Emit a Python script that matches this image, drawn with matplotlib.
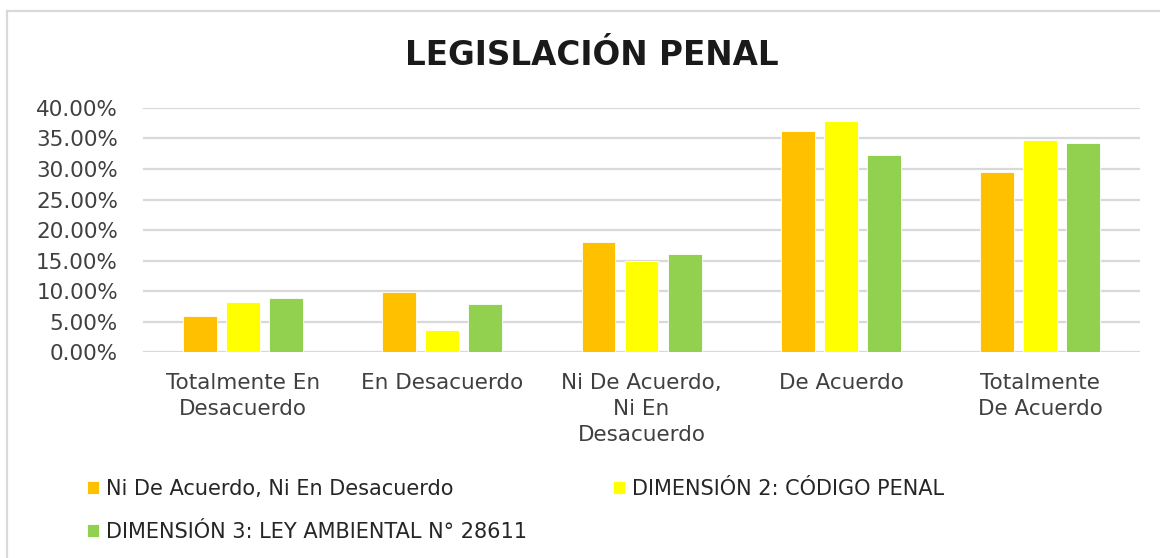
import matplotlib.pyplot as plt
import numpy as np
from matplotlib.patches import Rectangle

categories = ['Totalmente En\nDesacuerdo', 'En Desacuerdo',
              'Ni De Acuerdo,\nNi En\nDesacuerdo', 'De Acuerdo',
              'Totalmente\nDe Acuerdo']
series_names = ['Ni De Acuerdo, Ni En Desacuerdo',
                'DIMENSIÓN 2: CÓDIGO PENAL',
                'DIMENSIÓN 3: LEY AMBIENTAL N° 28611']
serie_1 = [5.9, 9.8, 18.0, 36.3, 29.5]
serie_2 = [8.2, 3.7, 15.0, 37.8, 34.7]
serie_3 = [8.9, 7.9, 16.0, 32.3, 34.3]
colors = ['#FFC000', '#FFFF00', '#92D050']

fig = plt.figure(figsize=(11.6, 5.58), dpi=100)
ax = fig.add_axes([0.1233, 0.369, 0.8595, 0.4375])

x = np.arange(len(categories))
width = 0.17
step = 0.216
bars = []
for i, (vals, name, col) in enumerate(zip([serie_1, serie_2, serie_3],
                                          series_names, colors)):
    b = ax.bar(x + (i - 1) * step, vals, width, color=col, label=name,
               edgecolor='white', linewidth=0.6, zorder=3)
    bars.append(b)

ax.set_xlim(-0.5, len(categories) - 0.5)
ax.set_ylim(0, 40)
yt = np.arange(0, 41, 5)
ax.set_yticks(yt)
ax.set_yticklabels([f'{v:.2f}%' for v in yt],
                   fontsize=15.5, color='#404040', family='DejaVu Sans')
ax.set_xticks(x)
ax.set_xticklabels(categories, fontsize=15.5, color='#404040',
                   family='DejaVu Sans', linespacing=1.38)
ax.tick_params(length=0, axis='y', pad=18)
ax.tick_params(length=0, axis='x', pad=15)
ax.grid(axis='y', color='#d9d9d9', linewidth=1.6, zorder=0)
for s in ax.spines.values():
    s.set_visible(False)

fig.text(0.51, 0.9, 'LEGISLACIÓN PENAL', ha='center', va='center',
         fontsize=23.5, fontweight='bold', color='#1a1a1a',
         family='DejaVu Sans')

# light grey frame round the chart
fig.patches.append(Rectangle((7 / 1160, -0.02), 1.1, 1 - 11 / 558 + 0.02,
                             transform=fig.transFigure, fill=False,
                             edgecolor='#d9d9d9', linewidth=1.6))

# legend: row 1 = orange, yellow ; row 2 = green
order = [0, 2, 1]
leg = fig.legend([bars[k] for k in order], [series_names[k] for k in order],
                 loc='upper left', bbox_to_anchor=(0.068, 0.157),
                 ncol=2, frameon=False, handlelength=0.55, handleheight=0.55,
                 handletextpad=0.35, columnspacing=4.15, labelspacing=1.1,
                 prop={'family': 'DejaVu Sans', 'size': 15},
                 borderaxespad=0)
for t in leg.get_texts():
    t.set_color('#262626')

fig.savefig('out.png', dpi=100)
